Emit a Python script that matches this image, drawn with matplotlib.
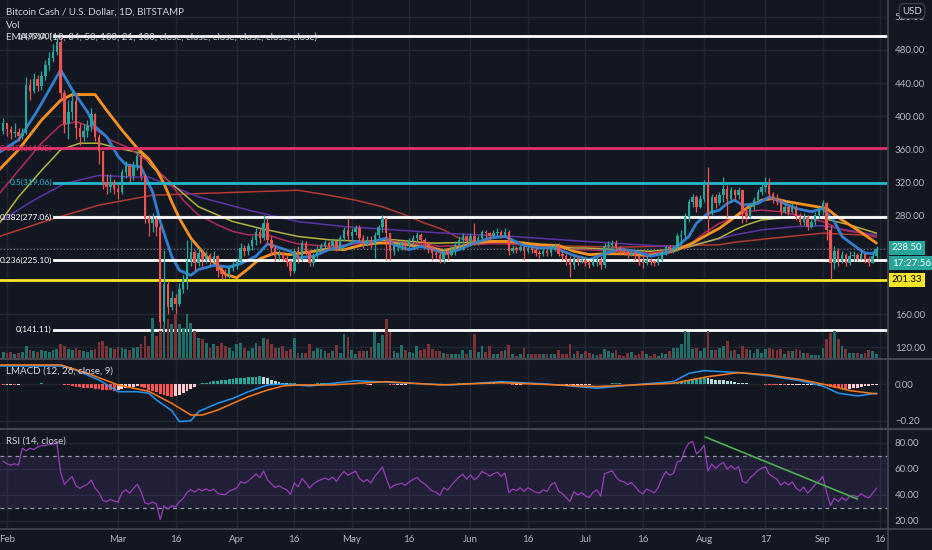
import numpy as np
import pandas as pd
import matplotlib
matplotlib.use('Agg')
import matplotlib.pyplot as plt
import matplotlib.dates as mdates
import matplotlib.transforms as mtrans

plt.rcParams['font.family'] = ['Lato', 'DejaVu Sans']

# ---------------- data ----------------
start_date = '2020-01-31'
end_date = '2020-09-15'
first_open = 382

closes = [392,
    384, 379, 381, 376, 380, 438, 430, 445, 436, 448,
    462, 470, 478, 490, 428, 390, 405, 418, 385, 375,
    382, 388, 402, 374, 357, 320, 314, 320, 312, 308,
    332, 340, 327, 340, 352, 327, 276, 270, 275, 266,
    150, 196, 168, 180, 172, 190, 202, 224, 235, 222,
    234, 226, 232, 224, 230, 212, 208, 207, 216, 220,
    224, 240, 236, 242, 250, 260, 252, 270, 250, 240,
    230, 234, 228, 224, 212, 236, 226, 246, 236, 222,
    232, 238, 242, 246, 242, 248, 240, 252, 262, 255,
    260, 264, 252, 246, 250, 244, 256, 265, 276, 258,
    236, 242, 244, 246, 242, 248, 252, 256, 250, 246,
    240, 234, 232, 226, 236, 232, 238, 244, 250, 254,
    248, 254, 248, 252, 260, 258, 255, 258, 260, 256,
    260, 236, 240, 238, 241, 236, 240, 237, 234, 233,
    236, 234, 240, 242, 233, 230, 225, 220, 228, 224,
    226, 222, 220, 224, 226, 219, 242, 244, 246, 240,
    236, 235, 232, 234, 230, 225, 222, 226, 224, 222,
    226, 234, 241, 238, 240, 254, 256, 277, 296, 302,
    290, 300, 318, 282, 302, 294, 304, 312, 300, 310,
    304, 310, 282, 278, 290, 298, 308, 314, 318, 305,
    300, 296, 284, 290, 284, 290, 278, 272, 278, 266,
    272, 280, 286, 294, 262, 222, 236, 224, 232, 222,
    230, 232, 227, 233, 226, 222, 230, 238.5]

highs = [398,
    390, 388, 392, 386, 385, 447, 445, 452, 450, 455,
    468, 478, 487, 497, 497, 432, 420, 430, 425, 392,
    390, 395, 410, 404, 378, 358, 330, 330, 324, 318,
    336, 346, 342, 345, 358, 354, 330, 280, 282, 278,
    268, 238, 200, 188, 184, 197, 207, 250, 250, 238,
    240, 238, 236, 234, 236, 232, 218, 214, 220, 224,
    228, 246, 244, 246, 254, 266, 264, 280, 276, 255,
    244, 238, 236, 232, 226, 240, 242, 250, 248, 236,
    234, 242, 246, 250, 248, 252, 250, 256, 266, 276,
    264, 268, 268, 256, 254, 254, 260, 268, 280, 278,
    258, 246, 248, 250, 248, 252, 256, 260, 258, 252,
    248, 242, 238, 236, 240, 238, 242, 248, 254, 258,
    256, 258, 270, 256, 262, 262, 260, 262, 264, 262,
    264, 262, 244, 242, 244, 242, 244, 242, 240, 238,
    240, 240, 244, 246, 246, 236, 234, 230, 232, 230,
    230, 228, 226, 228, 230, 230, 246, 248, 250, 250,
    242, 240, 238, 238, 236, 232, 230, 230, 228, 226,
    230, 238, 244, 244, 244, 258, 262, 282, 300, 306,
    304, 304, 322, 338, 306, 306, 308, 326, 316, 314,
    312, 314, 304, 290, 294, 302, 312, 318, 326, 325,
    308, 306, 300, 294, 292, 294, 292, 282, 282, 280,
    276, 284, 290, 298, 296, 268, 242, 240, 236, 234,
    236, 236, 234, 236, 234, 230, 234, 242]

lows = [378,
    376, 372, 374, 370, 372, 378, 420, 428, 430, 432,
    444, 456, 466, 474, 420, 380, 372, 395, 372, 365,
    370, 375, 382, 370, 342, 312, 305, 308, 306, 300,
    305, 325, 320, 322, 335, 322, 270, 255, 260, 255,
    142, 141, 160, 165, 160, 170, 185, 190, 218, 212,
    218, 218, 222, 220, 222, 205, 202, 204, 204, 212,
    215, 222, 230, 232, 238, 244, 246, 250, 244, 232,
    224, 226, 224, 218, 206, 210, 222, 224, 232, 218,
    218, 228, 236, 240, 238, 240, 236, 238, 248, 250,
    250, 256, 248, 240, 242, 240, 228, 252, 260, 226,
    226, 232, 236, 238, 238, 240, 244, 248, 246, 240,
    234, 226, 228, 222, 222, 226, 230, 232, 240, 238,
    244, 242, 244, 244, 250, 252, 250, 252, 254, 252,
    254, 232, 234, 234, 236, 226, 234, 234, 230, 228,
    230, 230, 230, 236, 230, 226, 220, 205, 215, 220,
    222, 218, 216, 218, 218, 214, 216, 238, 238, 236,
    232, 232, 228, 230, 226, 220, 216, 220, 220, 218,
    220, 224, 232, 234, 234, 236, 244, 252, 272, 290,
    284, 288, 296, 258, 280, 288, 292, 296, 278, 296,
    298, 300, 270, 272, 276, 286, 296, 304, 308, 300,
    294, 292, 280, 282, 280, 282, 274, 268, 268, 262,
    264, 268, 276, 280, 250, 203, 214, 218, 222, 218,
    220, 224, 224, 225, 222, 218, 222, 228]

volumes_k = [6,
    5, 6, 4, 5, 6, 12, 8, 7, 6, 8,
    7, 6, 8, 9, 14, 12, 9, 8, 10, 8,
    7, 6, 8, 9, 16, 17, 12, 10, 9, 11,
    10, 9, 8, 10, 11, 14, 22, 12, 40, 22,
    27, 33, 39, 34, 44, 34, 30, 44, 35, 27,
    20, 19, 15, 10, 14, 12, 15, 12, 10, 7,
    14, 15, 10, 7, 10, 15, 12, 20, 19, 14,
    10, 10, 12, 7, 9, 20, 5, 5, 5, 14,
    7, 10, 9, 7, 5, 7, 13, 5, 24, 21,
    8, 4, 7, 7, 7, 11, 26, 15, 23, 39,
    26, 7, 5, 13, 8, 6, 5, 12, 8, 9,
    14, 9, 7, 7, 5, 4, 4, 4, 4, 8,
    4, 8, 24, 6, 12, 6, 12, 4, 4, 7,
    8, 13, 4, 2, 4, 10, 4, 4, 4, 4,
    4, 4, 4, 4, 8, 4, 4, 14, 4, 7,
    4, 7, 5, 4, 3, 4, 9, 7, 5, 8,
    3, 2, 5, 6, 3, 4, 7, 4, 2, 4,
    2, 5, 4, 7, 10, 10, 14, 27, 26, 9,
    10, 7, 10, 27, 8, 8, 10, 12, 17, 7,
    8, 4, 12, 9, 8, 5, 9, 5, 9, 10,
    9, 8, 9, 4, 7, 7, 9, 8, 5, 5,
    3, 3, 3, 10, 19, 25, 27, 19, 12, 9,
    5, 5, 5, 4, 5, 8, 7, 4]

# moving averages (day offsets from 2020-02-01)
ma_base = '2020-02-01'
ema10_days = [-2, 3, 8, 14, 17, 21, 23, 26, 29, 31, 35, 38, 40, 43, 45, 48, 50, 54, 58, 61, 65, 68, 70, 74, 76, 80, 84, 88, 91, 94, 99, 101, 105, 108, 112, 114, 118, 122, 126, 130, 135, 139, 143, 148, 152, 156, 160, 164, 168, 172, 175, 178, 180, 183, 186, 188, 190, 192, 196, 199, 203, 206, 210, 213, 216, 218, 222, 224, 226, 227]
ema10_vals = [356, 371, 407, 456, 432, 405, 387, 375, 351, 341, 338, 308, 272, 230, 213, 207, 214, 219, 217, 221, 230, 245, 242, 236, 228, 230, 238, 242, 248, 246, 252, 244, 238, 242, 237, 233, 238, 246, 252, 254, 243, 240, 240, 231, 226, 233, 239, 236, 230, 234, 242, 254, 270, 282, 286, 294, 298, 292, 294, 302, 294, 288, 284, 288, 272, 254, 240, 234, 233, 238]
ema21_days = [-2, 3, 9, 14, 17, 23, 26, 30, 34, 37, 39, 41, 43, 45, 48, 52, 55, 57, 60, 63, 66, 70, 74, 77, 80, 84, 88, 93, 97, 101, 106, 110, 114, 118, 122, 126, 131, 135, 139, 144, 148, 152, 156, 161, 167, 172, 175, 179, 182, 186, 189, 193, 197, 200, 204, 209, 214, 217, 222, 227]
ema21_vals = [335, 359, 395, 419, 426, 426, 407, 383, 361, 348, 335, 318, 296, 276, 252, 230, 219, 208, 204, 215, 227, 234, 232, 234, 236, 239, 238, 244, 246, 246, 243, 241, 237, 241, 246, 248, 248, 246, 244, 243, 236, 232, 233, 233, 231, 234, 238, 246, 254, 264, 274, 288, 298, 300, 296, 292, 288, 277, 262, 246]
ema34_days = [-2, 3, 9, 14, 18, 22, 27, 31, 35, 37, 42, 46, 50, 55, 59, 63, 68, 72, 76, 84, 93, 101, 110, 113, 130, 148, 151, 168, 177, 182, 186, 190, 193, 197, 202, 206, 213, 218, 223, 227]
ema34_vals = [306, 334, 367, 389, 393, 387, 371, 363, 351, 345, 322, 298, 280, 268, 260, 256, 256, 250, 245, 242, 246, 248, 244, 242, 246, 238, 238, 234, 240, 258, 270, 277, 284, 286, 284, 280, 272, 262, 258, 253]
ema50_days = [-2, 3, 9, 14, 19, 24, 29, 35, 38, 41, 43, 50, 59, 66, 76, 84, 93, 101, 110, 113, 130, 148, 151, 168, 177, 186, 190, 193, 197, 206, 213, 220, 227]
ema50_vals = [270, 302, 334, 359, 367, 367, 361, 355, 338, 326, 318, 290, 272, 264, 254, 250, 248, 250, 246, 246, 248, 240, 240, 236, 240, 252, 262, 268, 274, 278, 276, 268, 258]
ema100_days = [-2, 7, 15, 24, 33, 37, 50, 63, 76, 88, 101, 114, 132, 151, 172, 177, 185, 190, 197, 206, 213, 219, 227]
ema100_vals = [272, 298, 318, 328, 326, 326, 302, 286, 272, 266, 262, 258, 254, 248, 242, 242, 250, 256, 262, 266, 267, 262, 256]
ma100_days = [-2, 11, 24, 38, 50, 63, 76, 84, 91, 98, 104, 108, 114, 118, 125, 140, 160, 186, 190, 200, 213, 227]
ma100_vals = [254, 274, 292, 304, 306, 308, 310, 304, 298, 290, 280, 272, 262, 252, 246, 243, 241, 244, 247, 252, 258, 255]

# LMACD
macd_days = [-2, 14, 18, 24, 29, 34, 37, 39, 43, 45, 48, 50, 55, 59, 63, 68, 72, 79, 91, 104, 116, 129, 141, 154, 166, 174, 178, 182, 191, 199, 207, 213, 217, 222, 227]
macd_vals = [0.098, 0.098, 0.076, 0.022, -0.042, -0.042, -0.05, -0.087, -0.145, -0.205, -0.200, -0.150, -0.105, -0.078, -0.042, -0.005, 0.0, -0.011, 0.018, 0.005, -0.005, 0.013, 0.0, -0.023, 0.0, 0.013, 0.058, 0.073, 0.062, 0.044, 0.018, -0.011, -0.050, -0.065, -0.050]
signal_days = [-2, 14, 21, 29, 37, 43, 48, 51, 55, 59, 63, 68, 72, 76, 85, 99, 113, 129, 154, 174, 183, 191, 199, 207, 214, 220, 227]
signal_vals = [0.104, 0.104, 0.058, -0.005, -0.040, -0.105, -0.169, -0.169, -0.142, -0.105, -0.069, -0.033, -0.011, -0.005, -0.005, 0.013, -0.005, 0.007, -0.014, 0.004, 0.040, 0.062, 0.049, 0.025, -0.005, -0.036, -0.054]
hist_milli = [-3,
    -3, -3, -4, -3, -2, -1, 1, 2, 2, 3, 2, 2, 1, 0,
    -2, -5, -8, -12, -15, -18, -20, -22, -24, -26, -28, -30, -32, -34, -36, -30,
    -26, -22, -18, -15, -12, -15, -22, -30, -38, -45,
    -55, -62, -68, -70, -66, -58, -48, -38, -26, -14,
    2, 5, 8, 11, 14, 17, 20, 23, 26, 29, 31, 33, 35, 37, 39, 40, 41,
    36, 30, 24, 18, 12, 7, 3,
    3, 3, 2, 2, 1, 1, 2, 3, 4, 4, 3, 3, 2, 2, 1, 1,
    0, -1, -2, -2, -3, -3, -2, -2, -1, -2, -4, -5, -5, -4, -3, -2, -2, -1, -1, -2,
    -3, -3, -2, -2, -1, 0, 1, 2, 3, 3, 4,
    5, 5, 4, 4, 4, 3, 3, 2, 1, -1, -2, -3, -3, -3, -2, -2, -1, -1, -1, -1,
    -2, -2, -3, -4, -5, -5, -6, -6, -5, -5, -4, -3, -2, -2, -1, 1, 2, 3, 3, 3,
    2, 2, 1, 1, 0, -1, -1, 0, 1, 2, 3, 4, 5, 7, 10,
    15, 20, 24, 27, 28, 30, 32, 30, 27, 24, 22, 20, 17, 14, 11, 8, 5, 3, 1, 0,
    -1, -2, -3, -4, -5, -6, -6, -7, -7, -6, -6, -6, -5, -5, -5, -4, -4,
    -5, -8, -14, -20, -24, -27, -28, -26, -24, -20, -16, -12, -9, -6, -4]

# RSI values for the first days (before 14 closes exist)
rsi_warmup_read = [66, 64, 63, 64, 63, 76, 74, 76, 75, 77, 78, 78, 79]
rsi_period = 14

fib_levels = [497.00, 361.05, 319.06, 277.06, 225.10, 141.11]
fib_ratios = ['1', '0.618', '0.5', '0.382', '0.236', '0']
fib_colors = ['#ffffff', '#e0306a', '#22b8cf', '#ffffff', '#ffffff', '#ffffff']
support_level = 201.33
rsi_trend_days = [182.3, 222]
rsi_trend_vals = [84.6, 36.9]

tick_dates = ['2020-02-01', '2020-03-01', '2020-03-16', '2020-04-01', '2020-04-16',
              '2020-05-01', '2020-05-16', '2020-06-01', '2020-06-16', '2020-07-01',
              '2020-07-16', '2020-08-01', '2020-08-17', '2020-09-01', '2020-09-16']
tick_labels = ['Feb', 'Mar', '16', 'Apr', '16', 'May', '16', 'Jun', '16', 'Jul',
               '16', 'Aug', '17', 'Sep', '16']
price_ticks = [120, 160, 280, 320, 360, 400, 440, 480, 520]
grid_prices = [120, 160, 200, 240, 280, 320, 360, 400, 440, 480, 520]

# ---------------- style ----------------
BG = '#131722'
GRID = '#232733'
TXT = '#b2b5be'
SEP = '#434651'
UP = '#26a69a'
DN = '#ef5350'

W, H = 932, 550
fig = plt.figure(figsize=(W / 100, H / 100), dpi=100, facecolor=BG)

def rect(top, bottom, right=888):
    return [0, 1 - bottom / H, right / W, (bottom - top) / H]

ax = fig.add_axes(rect(0, 358))
axv = fig.add_axes(rect(0, 358), sharex=ax)
axm = fig.add_axes(rect(360, 428), sharex=ax)
axr = fig.add_axes(rect(430, 528), sharex=ax)

dates = pd.date_range(start_date, end_date, freq='D')
x = mdates.date2num(dates.to_pydatetime())
base = mdates.date2num(pd.Timestamp(ma_base).to_pydatetime())

c = np.array(closes, float)
o = np.concatenate([[first_open], c[:-1]])
hi = np.array(highs, float)
lo = np.array(lows, float)
up = c >= o
ccol = np.where(up, UP, DN)

for a in (ax, axm, axr):
    a.set_facecolor(BG)
    for s in a.spines.values():
        s.set_visible(False)
    a.tick_params(axis='both', length=0, labelsize=7, colors=TXT)
    a.yaxis.tick_right()
    a.tick_params(axis='y', pad=5)
    a.tick_params(axis='x', labelbottom=False)

axv.set_zorder(ax.get_zorder() + 1)
axv.patch.set_visible(False)
axv.axis('off')

xmin, xmax = base - 1.83, base + 230.0
ax.set_xlim(xmin, xmax)

# vertical grid
tick_x = [mdates.date2num(pd.Timestamp(t).to_pydatetime()) for t in tick_dates]
for a in (ax, axm, axr):
    for tx in tick_x:
        a.axvline(tx, color=GRID, lw=1, zorder=0)

# ---------------- main price panel ----------------
ax.set_ylim(106.7, 540.6)
ax.set_yticks(price_ticks)
ax.set_yticklabels([f'{p:.2f}' for p in price_ticks])
for p in grid_prices:
    ax.axhline(p, color=GRID, lw=1, zorder=0)

# volume
axv.set_ylim(0, 358)
axv.bar(x, volumes_k, width=0.72, color=np.where(up, '#1f6e68', '#7d3237'), zorder=1)

# moving averages
def plot_ma(days, vals, color, lw):
    ax.plot(base + np.array(days, float), vals, color=color, lw=lw, zorder=3,
            solid_joinstyle='round', solid_capstyle='round')

plot_ma(ma100_days, ma100_vals, '#b23a2e', 1.1)
plot_ma(ema100_days, ema100_vals, '#5b34a8', 1.1)
plot_ma(ema50_days, ema50_vals, '#b3b23a', 1.1)
plot_ma(ema34_days, ema34_vals, '#b42a5c', 1.1)
plot_ma(ema21_days, ema21_vals, '#f7931e', 2.0)
plot_ma(ema10_days, ema10_vals, '#2f7fd0', 2.0)

# fib lines
blend = mtrans.blended_transform_factory(ax.transAxes, ax.transData)
for lvl, r, col in zip(fib_levels, fib_ratios, fib_colors):
    xs = 0.0 if r == '0.618' else 54 / 888
    ax.axhline(lvl, xmin=xs, xmax=1, color=col, lw=2, zorder=4)
    ax.text(52 / 888, lvl, f'{r}({lvl:.2f})', transform=blend, ha='right', va='center',
            color=col, fontsize=6.0, zorder=6)
ax.axhline(support_level, color='#f5e62a', lw=2, zorder=4)
ax.axhline(c[-1], color='#787b86', lw=0.8, ls=(0, (1, 2)), zorder=4)

# candles
ax.vlines(x, lo, hi, colors=ccol, lw=0.9, zorder=5)
body_h = np.maximum(np.abs(c - o), 0.6)
ax.bar(x, body_h, bottom=np.minimum(o, c), width=0.64, color=ccol, zorder=5)

# ---------------- MACD ----------------
axm.set_ylim(-0.2398, 0.1308)
axm.set_yticks([0.0, -0.2])
axm.set_yticklabels(['0.00', '\u22120.20'])
for v in (0.0, -0.2):
    axm.axhline(v, color=GRID, lw=1, zorder=0)
hv = np.array(hist_milli, float) / 1000.0
hcols = []
prev = 0.0
for v in hv:
    if v >= 0:
        hcols.append('#26a69a' if v >= prev else '#b2dfdb')
    else:
        hcols.append('#ff5252' if v < prev else '#ffcdd2')
    prev = v
axm.bar(x, hv, width=0.75, color=hcols, zorder=2)
axm.plot(base + np.array(macd_days, float), macd_vals, color='#2196f3', lw=1.1, zorder=3)
axm.plot(base + np.array(signal_days, float), signal_vals, color='#ff7a1a', lw=1.1, zorder=3)

# ---------------- RSI ----------------
axr.set_ylim(14.6, 90)
axr.set_yticks([20, 40, 60, 80])
axr.set_yticklabels(['20.00', '40.00', '60.00', '80.00'])
for v in (20, 40, 60, 80):
    axr.axhline(v, color=GRID, lw=1, zorder=0)
axr.axhspan(30, 70, color='#7e57c2', alpha=0.13, lw=0, zorder=1)
axr.axhline(70, color='#9598a1', lw=0.9, ls=(0, (3, 3)), zorder=2)
axr.axhline(30, color='#9598a1', lw=0.9, ls=(0, (3, 3)), zorder=2)

# Wilder RSI(14) on the closes (previous close for the first bar = first_open)
s = np.concatenate([[first_open], c])
d = np.diff(s)
g = np.clip(d, 0, None)
l = np.clip(-d, 0, None)
rsi = np.full(len(c), np.nan)
n0 = len(rsi_warmup_read)
rsi[:n0] = rsi_warmup_read
ag = g[:rsi_period].mean()
al = l[:rsi_period].mean()
rsi[rsi_period - 1] = 100 - 100 / (1 + ag / al)
for i in range(rsi_period, len(c)):
    ag = (ag * (rsi_period - 1) + g[i]) / rsi_period
    al = (al * (rsi_period - 1) + l[i]) / rsi_period
    rsi[i] = 100 - 100 / (1 + ag / al)
axr.plot(x, rsi, color='#9a3dba', lw=0.9, zorder=3)
axr.plot(base + np.array(rsi_trend_days), rsi_trend_vals, color='#4caf50', lw=1.2, zorder=4)

# ---------------- frame / separators ----------------
def hline_px(y, x0=0, x1=W, color=SEP, lw=1.5):
    fig.add_artist(plt.Line2D([x0 / W, x1 / W], [1 - y / H, 1 - y / H], color=color, lw=lw,
                              transform=fig.transFigure))

hline_px(359)
hline_px(429)
hline_px(528.5, lw=1.2)
fig.add_artist(plt.Line2D([888 / W, 888 / W], [0, 1], color=SEP, lw=1.2, transform=fig.transFigure))

# x labels
for tx, lab in zip(tick_x, tick_labels):
    fx = (tx - xmin) / (xmax - xmin) * 888 / W
    fig.text(fx, 1 - 540 / H, lab, ha='center', va='center', color=TXT, fontsize=7)

# header texts
def ftext(px, py, s, **kw):
    fig.text(px / W, 1 - py / H, s, **kw)

ftext(6, 12, 'Bitcoin Cash / U.S. Dollar, 1D, BITSTAMP', color='#d1d4dc', fontsize=7, va='center')
ftext(6, 25, 'Vol', color='#d1d4dc', fontsize=7, va='center')
ftext(6, 37, 'EMA/MA (10, 34, 50, 100, 21, 100, close, close, close, close, close, close)',
      color='#d1d4dc', fontsize=7, va='center', zorder=10)
ftext(6, 371, 'LMACD (12, 26, close, 9)', color='#d1d4dc', fontsize=7, va='center')
ftext(6, 441, 'RSI (14, close)', color='#d1d4dc', fontsize=7, va='center')

# right-side price boxes
def price_box(py, s, fc, tc):
    ftext(892, py, s, color=tc, fontsize=7, va='center', ha='left', zorder=20,
          bbox=dict(boxstyle='square,pad=0.28', fc=fc, ec='none'))

price_box(248, f'{c[-1]:.2f}', '#26a69a', 'white')
price_box(263, '17:27:56', '#26a69a', 'white')
price_box(280, f'{support_level:.2f}', '#f5e62a', 'black')
ftext(912, 11, 'USD', color='#d1d4dc', fontsize=7, va='center', ha='center', zorder=20,
      bbox=dict(boxstyle='round,pad=0.3,rounding_size=0.5', fc=BG, ec='#434651', lw=0.8))

fig.savefig('out.png', dpi=100, facecolor=BG)
